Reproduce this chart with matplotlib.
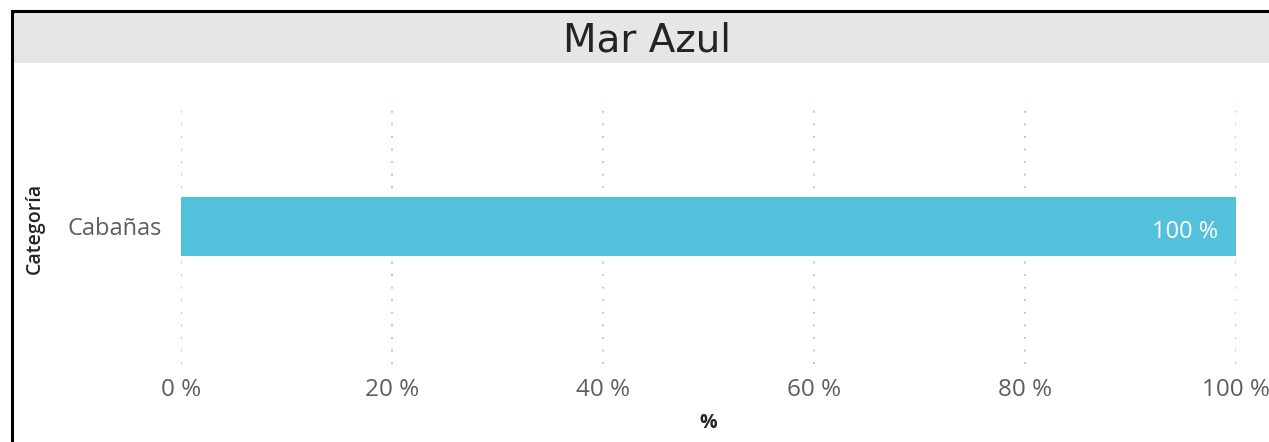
import matplotlib.pyplot as plt
from matplotlib.patches import Rectangle
from matplotlib.lines import Line2D

categories = ['Cabañas']
values = [100]
bar_labels = ['100 %']
x_ticks = [0, 20, 40, 60, 80, 100]
x_tick_labels = ['0 %', '20 %', '40 %', '60 %', '80 %', '100 %']

W, H = 1269, 442
fig = plt.figure(figsize=(W / 100, H / 100), dpi=100)

# frame: grey title band and black border on left/top
fig.patches.append(Rectangle((13 / W, 1 - 63 / H), 1, 51 / H, transform=fig.transFigure,
                             facecolor='#E6E6E6', edgecolor='none', zorder=0))
fig.lines.append(Line2D([12 / W, 12 / W], [0, 1 - 11 / H], transform=fig.transFigure,
                        color='black', linewidth=2.2))
fig.lines.append(Line2D([12 / W, 1], [1 - 11 / H, 1 - 11 / H], transform=fig.transFigure,
                        color='black', linewidth=2.2))
fig.text(647 / W, 1 - 40 / H, 'Mar Azul', ha='center', va='center', fontsize=28,
         color='#252423', family='DejaVu Sans')

ax = fig.add_axes([181 / W, 1 - 364 / H, (1236 - 181) / W, 264 / H])
ax.barh(range(len(categories)), values, height=0.2235, color='#53C1DC', zorder=2)
for i, (v, lab) in enumerate(zip(values, bar_labels)):
    ax.text(v - 1.7, i - 0.02, lab, ha='right', va='center', color='white',
            fontsize=17, family='Open Sans')

ax.set_xlim(0, 100)
ax.set_ylim(-0.521, 0.479)
ax.set_xticks(x_ticks)
ax.set_xticklabels(x_tick_labels, family='Open Sans', fontsize=17.5, color='#605E5C')
ax.set_yticks(range(len(categories)))
ax.set_yticklabels(categories, family='Open Sans', fontsize=17, color='#605E5C')
ax.tick_params(length=0)
ax.tick_params(axis='x', pad=10)
ax.tick_params(axis='y', pad=14)
ax.grid(axis='x', color='#C8C6C4', linewidth=1.4, linestyle=(0, (1, 5.46)), zorder=1)
for s in ax.spines.values():
    s.set_visible(False)

ax.set_xlabel('%', family='Open Sans', fontweight='bold', fontsize=14, color='#252423', labelpad=8)
fig.text(35 / W, 1 - 228 / H, 'Categoría', rotation=90, ha='center', va='center',
         family='Open Sans', fontweight='semibold', fontsize=14, color='#252423')

plt.savefig('out.png', dpi=100)
